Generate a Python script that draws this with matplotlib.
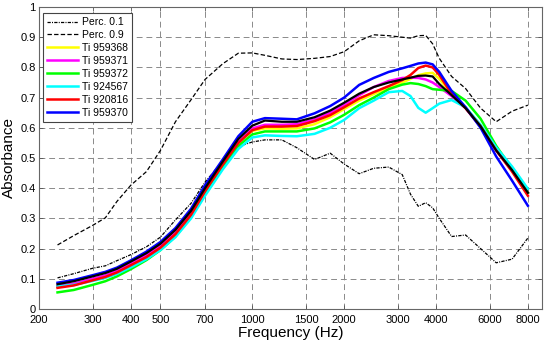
import matplotlib
matplotlib.use("Agg")
import matplotlib.pyplot as plt
from matplotlib.ticker import FixedLocator, FixedFormatter, NullLocator

plt.rcParams['font.family'] = ['Liberation Sans', 'DejaVu Sans']

freq = [230, 260, 300, 330, 360, 400, 450, 500, 560, 630, 700, 800, 900, 1000,
        1100, 1250, 1400, 1600, 1800, 2000, 2240, 2500, 2800, 3100, 3300, 3500,
        3700, 3900, 4100, 4500, 5000, 5600, 6300, 7100, 8000]

perc_10 = [0.103, 0.117, 0.135, 0.143, 0.160, 0.180, 0.206, 0.238, 0.295, 0.350,
           0.420, 0.490, 0.538, 0.553, 0.560, 0.560, 0.534, 0.495, 0.516, 0.480,
           0.448, 0.466, 0.470, 0.445, 0.380, 0.340, 0.352, 0.335, 0.300, 0.240,
           0.245, 0.200, 0.153, 0.165, 0.235]
perc_90 = [0.212, 0.243, 0.277, 0.302, 0.356, 0.410, 0.455, 0.525, 0.620, 0.693,
           0.760, 0.812, 0.847, 0.848, 0.840, 0.828, 0.826, 0.830, 0.836, 0.852,
           0.888, 0.908, 0.905, 0.900, 0.897, 0.905, 0.906, 0.878, 0.830, 0.770,
           0.730, 0.665, 0.620, 0.655, 0.675]

ti_959368 = [0.074, 0.082, 0.098, 0.110, 0.125, 0.149, 0.178, 0.210, 0.255, 0.318,
             0.395, 0.482, 0.550, 0.590, 0.598, 0.597, 0.598, 0.612, 0.635, 0.662,
             0.690, 0.712, 0.732, 0.750, 0.762, 0.774, 0.780, 0.782, 0.762, 0.712,
             0.665, 0.605, 0.525, 0.460, 0.385]
ti_959371 = [0.077, 0.084, 0.100, 0.111, 0.126, 0.150, 0.178, 0.208, 0.252, 0.316,
             0.393, 0.480, 0.553, 0.598, 0.610, 0.610, 0.612, 0.628, 0.650, 0.676,
             0.708, 0.735, 0.755, 0.765, 0.766, 0.765, 0.760, 0.750, 0.735, 0.705,
             0.665, 0.603, 0.525, 0.458, 0.385]
ti_959372 = [0.055, 0.063, 0.080, 0.092, 0.108, 0.132, 0.162, 0.195, 0.240, 0.305,
             0.382, 0.470, 0.540, 0.578, 0.588, 0.588, 0.588, 0.598, 0.618, 0.643,
             0.675, 0.700, 0.728, 0.743, 0.748, 0.745, 0.738, 0.728, 0.726, 0.722,
             0.690, 0.630, 0.540, 0.465, 0.385]
ti_924567 = [0.075, 0.080, 0.093, 0.103, 0.116, 0.138, 0.165, 0.195, 0.238, 0.300,
             0.375, 0.462, 0.530, 0.568, 0.575, 0.573, 0.572, 0.580, 0.600, 0.626,
             0.665, 0.690, 0.718, 0.722, 0.705, 0.666, 0.650, 0.665, 0.680, 0.692,
             0.668, 0.610, 0.535, 0.472, 0.398]
ti_920816 = [0.070, 0.078, 0.095, 0.106, 0.121, 0.145, 0.172, 0.203, 0.248, 0.312,
             0.390, 0.478, 0.550, 0.592, 0.604, 0.604, 0.606, 0.622, 0.642, 0.668,
             0.697, 0.718, 0.738, 0.758, 0.775, 0.798, 0.806, 0.800, 0.775, 0.712,
             0.665, 0.605, 0.525, 0.455, 0.375]
ti_959370 = [0.087, 0.096, 0.112, 0.123, 0.137, 0.161, 0.190, 0.222, 0.268, 0.332,
             0.410, 0.495, 0.572, 0.620, 0.632, 0.630, 0.628, 0.648, 0.672, 0.700,
             0.742, 0.765, 0.785, 0.797, 0.805, 0.813, 0.816, 0.810, 0.785, 0.722,
             0.668, 0.600, 0.505, 0.425, 0.342]
mean_curve = [0.082, 0.092, 0.108, 0.119, 0.133, 0.157, 0.185, 0.216, 0.262, 0.325,
              0.400, 0.488, 0.563, 0.607, 0.624, 0.620, 0.620, 0.635, 0.657, 0.683,
              0.713, 0.735, 0.750, 0.760, 0.766, 0.772, 0.773, 0.770, 0.745, 0.708,
              0.665, 0.605, 0.525, 0.460, 0.385]

x_ticks = [200, 300, 400, 500, 700, 1000, 1500, 2000, 3000, 4000, 6000, 8000]
x_tick_labels = ['200', '300', '400', '500', '700', '1000', '1500', '2000',
                 '3000', '4000', '6000', '8000']
y_ticks = [0, 0.1, 0.2, 0.3, 0.4, 0.5, 0.6, 0.7, 0.8, 0.9, 1.0]
y_tick_labels = ['0', '0.1', '0.2', '0.3', '0.4', '0.5', '0.6', '0.7', '0.8', '0.9', '1']

fig = plt.figure(figsize=(5.5, 3.45), dpi=100)
ax = fig.add_axes([39/550, 36/345, 503/550, 302/345])

ax.plot(freq, perc_10, color='black', lw=0.9, dashes=(2.6, 1.0, 0.8, 1.0), label='Perc. 0.1', zorder=3)
ax.plot(freq, perc_90, color='black', lw=0.9, dashes=(3.5, 1.8), label='Perc. 0.9', zorder=3)
series = [(ti_959368, '#FFFF00', 'Ti 959368'),
          (ti_959371, '#FF00FF', 'Ti 959371'),
          (ti_959372, '#00FF00', 'Ti 959372'),
          (ti_924567, '#00FFFF', 'Ti 924567'),
          (ti_920816, '#FF0000', 'Ti 920816'),
          (ti_959370, '#0000FF', 'Ti 959370')]
for vals, col, lab in series:
    ax.plot(freq, vals, color=col, lw=1.8, label=lab, zorder=4)
ax.plot(freq, mean_curve, color='black', lw=1.6, zorder=5)

ax.set_xscale('log')
ax.set_xlim(200, 8900)
ax.set_ylim(0, 1)
ax.xaxis.set_major_locator(FixedLocator(x_ticks))
ax.xaxis.set_major_formatter(FixedFormatter(x_tick_labels))
ax.xaxis.set_minor_locator(NullLocator())
ax.yaxis.set_major_locator(FixedLocator(y_ticks))
ax.yaxis.set_major_formatter(FixedFormatter(y_tick_labels))

ax.grid(True, color='#8a8a8a', linestyle=(0, (6, 4)), linewidth=0.7, zorder=0)
ax.set_axisbelow(True)
ax.tick_params(direction='in', length=3, width=0.6, colors='#555555', labelcolor='black',
               labelsize=8, top=True, right=True, pad=2.5)
ax.tick_params(axis='x', pad=4)
for s in ax.spines.values():
    s.set_color('#666666')
    s.set_linewidth(0.8)

ax.set_xlabel('Frequency (Hz)', fontsize=11, labelpad=1)
ax.set_ylabel('Absorbance', fontsize=11, labelpad=3)

leg = ax.legend(loc='upper left', bbox_to_anchor=(43/550, 1 - 13/345),
                bbox_transform=fig.transFigure, borderaxespad=0, fontsize=7.5,
                handlelength=3.0, handletextpad=0.3, labelspacing=0.28,
                borderpad=0.4, fancybox=False, framealpha=1, edgecolor='#444444')
leg.get_frame().set_linewidth(0.8)

fig.savefig('out.png', dpi=100)
